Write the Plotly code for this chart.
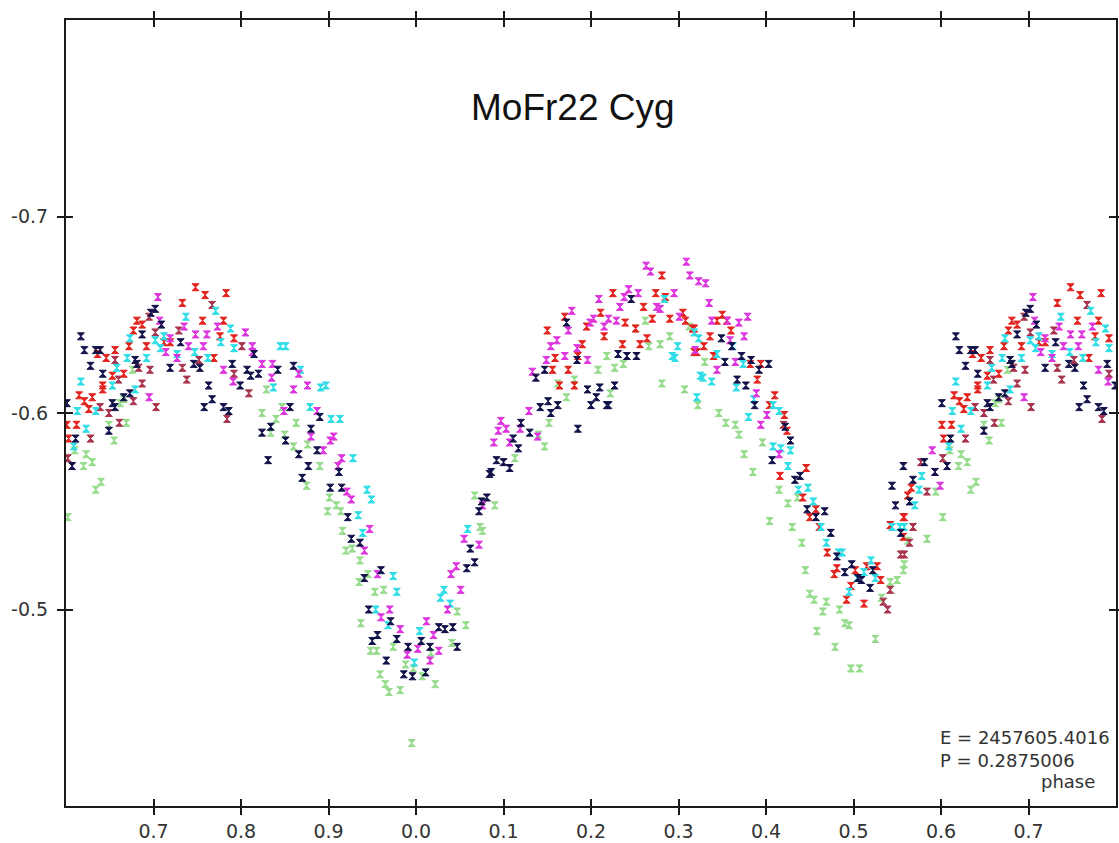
import plotly.graph_objects as go

# ---------------- data (phase in [0,1), differential magnitude) ----------------
red_phase = [0.748,0.759,0.783,0.733,0.681,0.687,0.677,0.756,0.780,0.672,0.692,0.656,0.636,0.646,0.792,0.776,0.769,0.653,0.666,0.642,0.642,0.615,0.630,0.621,0.626,0.601,0.612,0.603,0.712,0.719,
             0.566,0.562,0.558,
             0.281,0.225,0.274,0.285,0.260,0.211,0.170,0.270,0.290,0.305,0.308,0.239,0.195,0.150,0.215,0.264,0.256,0.236,0.190,0.318,0.321,0.159,0.174,0.156,0.185,0.164,0.181,0.251,
             0.350,0.344,0.355,0.360,0.336,0.329,0.318,0.340,0.382,0.394,0.390,0.410,0.404,0.421,0.424,0.446,0.416,0.442,0.457,0.450,0.461,0.470,0.478,0.481,0.502,0.515,0.527,0.531,0.497,0.492,0.512,0.542,0.557,0.557,0.316]
red_mag = [-0.664,-0.660,-0.661,-0.656,-0.647,-0.645,-0.642,-0.647,-0.647,-0.634,-0.634,-0.632,-0.630,-0.628,-0.638,-0.639,-0.628,-0.619,-0.620,-0.614,-0.612,-0.609,-0.608,-0.606,-0.602,-0.594,-0.594,-0.587,-0.636,-0.636,
           -0.562,-0.558,-0.547,
           -0.670,-0.661,-0.661,-0.659,-0.654,-0.651,-0.649,-0.648,-0.648,-0.651,-0.647,-0.646,-0.644,-0.642,-0.639,-0.638,-0.635,-0.635,-0.635,-0.643,-0.631,-0.628,-0.622,-0.622,-0.629,-0.614,-0.614,-0.643,
           -0.650,-0.647,-0.647,-0.642,-0.639,-0.634,-0.631,-0.629,-0.625,-0.625,-0.617,-0.609,-0.604,-0.599,-0.591,-0.572,-0.568,-0.557,-0.551,-0.547,-0.542,-0.529,-0.518,-0.521,-0.520,-0.522,-0.522,-0.515,-0.512,-0.505,-0.503,-0.543,-0.547,-0.537,-0.643]

maroon_phase = [0.767,0.695,0.702,0.729,0.656,0.683,0.696,0.752,0.733,0.738,0.687,0.660,0.677,0.703,0.649,0.661,0.628,0.602,0.792,0.809,0.784,0.801,0.639,
                0.577,0.584,0.568,0.564,0.558,
                0.542,0.534,0.539,0.554,0.420]
maroon_mag = [-0.655,-0.649,-0.641,-0.642,-0.627,-0.623,-0.622,-0.627,-0.623,-0.617,-0.615,-0.617,-0.606,-0.603,-0.600,-0.595,-0.587,-0.577,-0.620,-0.610,-0.597,-0.634,-0.603,
              -0.575,-0.560,-0.542,-0.534,-0.528,
              -0.510,-0.504,-0.500,-0.528,-0.594]

magenta_phase = [0.705,0.707,0.748,0.761,0.773,0.805,0.719,0.714,0.727,0.740,0.757,0.813,0.813,0.780,0.791,0.824,0.836,0.835,0.695,0.735,
                 0.866,0.860,0.876,0.849,0.887,0.880,0.902,0.906,0.894,0.915,0.911,0.921,0.926,0.947,0.941,0.956,0.970,0.960,0.982,0.990,0.002,0.016,0.026,0.012,0.020,0.036,0.051,0.040,0.046,0.055,0.072,0.076,
                 0.263,0.268,0.309,0.313,0.323,0.243,0.254,0.295,0.238,0.209,0.233,0.275,0.279,0.178,0.203,0.199,0.220,0.229,0.215,0.174,0.301,0.161,0.154,0.184,0.170,0.149,0.133,0.196,0.129,0.097,0.094,0.103,0.119,0.089,0.107,0.139,
                 0.331,0.335,0.338,0.356,0.369,0.379,0.375,0.359,0.319,0.344,0.365,0.389,0.401,0.394,0.415,
                 0.590,0.599]
magenta_mag = [-0.659,-0.647,-0.640,-0.640,-0.644,-0.641,-0.638,-0.631,-0.628,-0.634,-0.634,-0.634,-0.631,-0.622,-0.616,-0.625,-0.625,-0.618,-0.608,-0.644,
               -0.620,-0.612,-0.614,-0.601,-0.601,-0.588,-0.586,-0.588,-0.581,-0.577,-0.573,-0.560,-0.556,-0.541,-0.530,-0.518,-0.500,-0.496,-0.490,-0.477,-0.480,-0.474,-0.479,-0.494,-0.487,-0.500,-0.510,-0.518,-0.522,-0.536,-0.533,-0.553,
               -0.675,-0.672,-0.677,-0.670,-0.667,-0.663,-0.661,-0.661,-0.659,-0.658,-0.654,-0.654,-0.653,-0.652,-0.648,-0.646,-0.648,-0.647,-0.644,-0.642,-0.649,-0.637,-0.634,-0.633,-0.629,-0.627,-0.621,-0.627,-0.601,-0.596,-0.591,-0.592,-0.592,-0.585,-0.585,-0.588,
               -0.666,-0.656,-0.647,-0.647,-0.646,-0.649,-0.639,-0.637,-0.632,-0.622,-0.626,-0.610,-0.599,-0.594,-0.579,
               -0.581,-0.563]

cyan_phase = [0.737,0.771,0.673,0.712,0.702,0.788,0.792,0.777,0.670,0.692,0.708,0.727,0.747,0.762,0.658,0.653,0.679,0.617,0.613,0.634,0.623,0.609,0.837,0.845,
              0.851,0.868,
              0.891,0.897,0.879,0.903,0.913,0.928,0.944,0.949,0.934,0.939,0.974,0.978,0.954,0.968,0.004,0.998,0.032,0.028,0.039,0.059,
              0.284,0.299,0.293,0.296,0.318,0.323,0.325,0.321,
              0.344,0.362,0.374,0.328,0.338,0.366,0.386,0.380,0.408,0.415,0.408,0.417,0.428,0.425,0.437,0.448,0.454,0.463,0.469,0.483,0.487,0.504,0.512,0.520,0.495,0.525,0.544,0.553,
              0.578,0.575,0.570,0.558]
cyan_mag = [-0.649,-0.652,-0.638,-0.639,-0.637,-0.643,-0.633,-0.636,-0.628,-0.628,-0.633,-0.630,-0.631,-0.628,-0.623,-0.614,-0.612,-0.616,-0.601,-0.601,-0.592,-0.583,-0.613,-0.634,
            -0.634,-0.622,
            -0.613,-0.614,-0.603,-0.597,-0.597,-0.577,-0.561,-0.556,-0.548,-0.539,-0.517,-0.509,-0.500,-0.492,-0.489,-0.473,-0.510,-0.506,-0.503,-0.541,
            -0.658,-0.634,-0.629,-0.628,-0.641,-0.638,-0.619,-0.608,
            -0.630,-0.634,-0.625,-0.618,-0.616,-0.613,-0.607,-0.598,-0.604,-0.601,-0.583,-0.582,-0.581,-0.573,-0.561,-0.562,-0.555,-0.542,-0.534,-0.529,-0.529,-0.516,-0.519,-0.525,-0.509,-0.516,-0.542,-0.542,
            -0.568,-0.561,-0.553,-0.542]

navy_phase = [0.702,0.697,0.709,0.687,0.617,0.621,0.634,0.639,0.628,0.642,0.679,0.681,0.719,0.731,0.746,0.753,0.790,0.807,0.815,0.811,0.820,0.763,0.799,0.767,0.758,0.780,0.786,0.673,0.666,0.653,0.656,0.601,0.649,0.607,0.611,0.824,0.834,0.831,0.842,
              0.860,
              0.856,0.890,0.880,0.851,0.866,0.887,0.877,0.870,0.912,0.902,0.915,0.922,0.926,0.936,0.960,0.941,0.946,0.971,0.956,0.950,0.978,0.991,0.966,0.986,0.996,0.011,0.006,0.016,0.026,0.033,0.042,0.047,0.058,0.067,0.062,0.072,0.075,0.081,0.084,
              0.246,0.172,0.231,0.241,0.252,0.184,0.147,0.137,0.196,0.210,0.227,0.206,0.200,0.218,0.220,0.151,0.162,0.154,0.142,0.185,0.120,0.130,0.111,0.117,0.092,0.100,0.107,0.086,
              0.349,0.361,0.353,0.372,0.383,0.403,0.392,0.367,0.377,0.387,0.422,0.428,0.407,0.433,0.439,0.447,0.457,0.467,0.474,0.481,0.490,0.498,0.505,0.509,0.522,0.519,0.557,0.544,0.548,0.554,
              0.568,0.581,0.593,0.564]
navy_mag = [-0.653,-0.651,-0.645,-0.640,-0.639,-0.632,-0.632,-0.632,-0.624,-0.620,-0.627,-0.625,-0.623,-0.636,-0.625,-0.623,-0.625,-0.622,-0.630,-0.619,-0.620,-0.614,-0.614,-0.607,-0.603,-0.603,-0.601,-0.610,-0.608,-0.605,-0.603,-0.605,-0.591,-0.573,-0.587,-0.590,-0.593,-0.576,-0.622,
            -0.624,
            -0.603,-0.598,-0.592,-0.586,-0.579,-0.581,-0.573,-0.567,-0.570,-0.562,-0.562,-0.547,-0.536,-0.534,-0.520,-0.516,-0.500,-0.494,-0.487,-0.484,-0.485,-0.481,-0.474,-0.467,-0.466,-0.468,-0.484,-0.481,-0.491,-0.490,-0.491,-0.481,-0.521,-0.524,-0.531,-0.550,-0.555,-0.557,-0.569,
            -0.658,-0.646,-0.630,-0.629,-0.629,-0.627,-0.622,-0.618,-0.612,-0.613,-0.614,-0.608,-0.604,-0.604,-0.604,-0.606,-0.604,-0.600,-0.603,-0.592,-0.595,-0.590,-0.587,-0.582,-0.576,-0.575,-0.572,-0.570,
            -0.638,-0.634,-0.626,-0.629,-0.627,-0.625,-0.622,-0.617,-0.614,-0.604,-0.593,-0.586,-0.576,-0.566,-0.568,-0.551,-0.547,-0.550,-0.539,-0.527,-0.519,-0.523,-0.516,-0.515,-0.520,-0.511,-0.573,-0.563,-0.553,-0.539,
            -0.566,-0.575,-0.570,-0.555]

green_phase = [0.676,0.666,0.662,0.649,0.669,0.655,0.610,0.623,0.620,0.630,0.640,0.634,0.602,0.824,0.834,0.829,
               0.847,0.863,0.840,0.850,0.860,0.876,0.890,0.875,0.901,0.909,0.899,0.914,0.916,0.927,0.920,0.936,0.945,0.935,0.953,0.963,0.937,0.948,0.955,0.974,0.959,0.965,0.969,0.982,0.988,0.997,0.007,0.017,0.022,0.041,0.057,0.047,0.067,0.073,0.076,0.995,
               0.262,0.251,0.290,0.279,0.266,0.312,0.218,0.227,0.237,0.208,0.162,0.181,0.222,0.172,0.281,0.307,0.152,0.140,0.147,0.113,0.090,
               0.330,0.322,0.346,0.354,0.365,0.369,0.396,0.375,0.385,0.415,0.425,0.436,0.404,0.430,0.441,0.445,0.450,0.455,0.469,0.465,0.484,0.490,0.495,0.458,0.479,0.525,0.532,0.542,0.550,0.557,0.497,0.507,
               0.562,0.584,0.558,0.594]
green_mag = [-0.622,-0.607,-0.605,-0.594,-0.595,-0.586,-0.581,-0.579,-0.573,-0.575,-0.565,-0.561,-0.547,-0.600,-0.590,-0.612,
             -0.603,-0.595,-0.597,-0.589,-0.583,-0.584,-0.573,-0.563,-0.557,-0.553,-0.550,-0.550,-0.540,-0.531,-0.530,-0.525,-0.518,-0.514,-0.509,-0.510,-0.493,-0.479,-0.479,-0.481,-0.467,-0.462,-0.458,-0.459,-0.472,-0.470,-0.466,-0.478,-0.462,-0.483,-0.492,-0.499,-0.558,-0.542,-0.540,-0.432,
             -0.647,-0.643,-0.639,-0.635,-0.634,-0.644,-0.629,-0.623,-0.625,-0.622,-0.615,-0.617,-0.610,-0.608,-0.615,-0.612,-0.595,-0.589,-0.583,-0.577,-0.553,
             -0.626,-0.604,-0.600,-0.595,-0.594,-0.589,-0.585,-0.579,-0.570,-0.561,-0.554,-0.557,-0.545,-0.542,-0.534,-0.520,-0.508,-0.505,-0.504,-0.499,-0.500,-0.493,-0.492,-0.489,-0.481,-0.485,-0.506,-0.514,-0.515,-0.520,-0.470,-0.470,
             -0.535,-0.536,-0.523,-0.560]

series = [
    ("green", green_phase, green_mag, "#96dc8c"),
    ("maroon", maroon_phase, maroon_mag, "#a8344e"),
    ("red", red_phase, red_mag, "#e2231e"),
    ("cyan", cyan_phase, cyan_mag, "#2fdde6"),
    ("magenta", magenta_phase, magenta_mag, "#dd35dd"),
    ("navy", navy_phase, navy_mag, "#12124a"),
]

x_range = [-0.4, 0.8]
y_range = [-0.4, -0.8]
x_tickvals = [-0.3, -0.2, -0.1, 0.0, 0.1, 0.2, 0.3, 0.4, 0.5, 0.6, 0.7]
x_ticktext = ["0.7", "0.8", "0.9", "0.0", "0.1", "0.2", "0.3", "0.4", "0.5", "0.6", "0.7"]
y_tickvals = [-0.7, -0.6, -0.5]
y_ticktext = ["-0.7", "-0.6", "-0.5"]

title_text = "MoFr22 Cyg"
info_text = "E = 2457605.4016<br>P = 0.2875006"
xlabel_text = "phase"


def unfold(ph, mg):
    xs, ys = [], []
    for p, m in zip(ph, mg):
        if p - 1 >= x_range[0]:
            xs.append(p - 1); ys.append(m)
        if p <= x_range[1]:
            xs.append(p); ys.append(m)
    return xs, ys


fig = go.Figure()
for name, ph, mg, col in series:
    xs, ys = unfold(ph, mg)
    fig.add_trace(go.Scatter(x=xs, y=ys, mode="markers", name=name,
                             marker=dict(symbol="hourglass", size=7, color=col,
                                         line=dict(width=1, color=col)),
                             showlegend=False, hoverinfo="skip"))

# invisible helper trace so the overlaid axes (inside ticks) are drawn
xs0, ys0 = unfold(navy_phase, navy_mag)
fig.add_trace(go.Scatter(x=xs0, y=ys0, xaxis="x2", yaxis="y2", mode="markers",
                         marker=dict(opacity=0), showlegend=False, hoverinfo="skip"))

tickfont = dict(family="DejaVu Sans", size=19, color="#333333")
axis_common = dict(showgrid=False, zeroline=False, ticklen=7, tickwidth=2,
                   tickcolor="#1a1a1a", automargin=False)

fig.update_layout(
    width=1119, height=843,
    margin=dict(l=66, r=3, t=20, b=37),
    paper_bgcolor="white", plot_bgcolor="white",
    xaxis=dict(range=x_range, tickvals=x_tickvals, ticktext=x_ticktext,
               ticks="outside", showline=True, linewidth=2, linecolor="#1a1a1a",
               mirror="ticks", tickfont=tickfont, **axis_common),
    yaxis=dict(range=y_range, tickvals=y_tickvals, ticktext=y_ticktext,
               ticks="outside", showline=True, linewidth=2, linecolor="#1a1a1a",
               mirror="ticks", tickfont=tickfont, ticklabelstandoff=5, **axis_common),
    xaxis2=dict(range=x_range, overlaying="x", matches="x", tickvals=x_tickvals,
                ticks="inside", mirror="ticks", showticklabels=False,
                showline=False, **axis_common),
    yaxis2=dict(range=y_range, overlaying="y", matches="y", tickvals=y_tickvals,
                ticks="inside", mirror="ticks", showticklabels=False,
                showline=False, **axis_common),
    annotations=[
        dict(text=title_text, x=0.4824, y=0.889, xref="paper", yref="paper",
             xanchor="center", yanchor="middle", showarrow=False,
             font=dict(family="Liberation Sans", size=37, color="#111111")),
        dict(text=info_text, x=0.8306, y=0.0725, xref="paper", yref="paper",
             xanchor="left", yanchor="middle", align="left", showarrow=False,
             font=dict(family="DejaVu Sans", size=18, color="#333333")),
        dict(text=xlabel_text, x=0.982, y=0.0318, xref="paper", yref="paper",
             xanchor="right", yanchor="middle", showarrow=False,
             font=dict(family="DejaVu Sans", size=18, color="#333333")),
    ],
)

# remove the browser's default 8px page margin so the figure sits at (0, 0)
fig.write_html("out.html", config={"displayModeBar": False},
               post_script="document.body.style.margin='0px';")
